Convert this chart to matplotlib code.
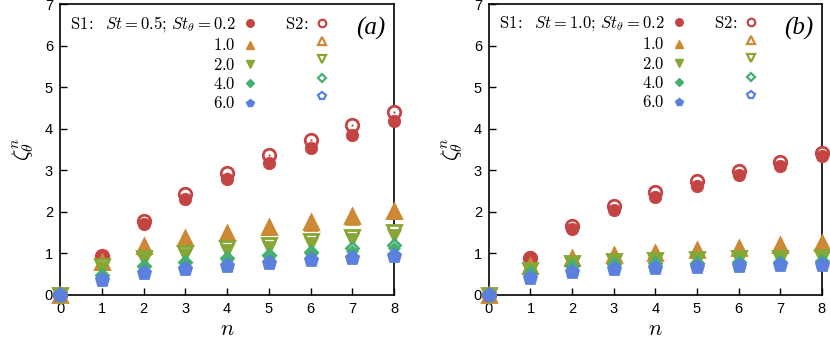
import matplotlib
matplotlib.use("Agg")
import matplotlib.pyplot as plt
from matplotlib.lines import Line2D
import numpy as np

plt.rcParams['mathtext.fontset'] = 'cm'
plt.rcParams['font.family'] = ['Liberation Sans', 'DejaVu Sans']

n = [0, 1, 2, 3, 4, 5, 6, 7, 8]
st_theta_labels = ['0.2', '1.0', '2.0', '4.0', '6.0']
colors = ['#c44444', '#cc8833', '#86a635', '#45b06e', '#5b80dd']
markers = ['o', '^', 'v', 'D', 'p']
msizes = [9.0, 10.0, 10.0, 6.5, 9.5]

# Panel (a): St = 0.5
a_S1 = [
    [0, 0.95, 1.70, 2.31, 2.78, 3.18, 3.53, 3.86, 4.18],
    [0, 0.78, 1.13, 1.34, 1.47, 1.60, 1.72, 1.86, 2.00],
    [0, 0.66, 0.86, 0.96, 1.05, 1.13, 1.22, 1.32, 1.42],
    [0, 0.47, 0.67, 0.76, 0.84, 0.91, 0.98, 1.05, 1.12],
    [0, 0.38, 0.55, 0.65, 0.72, 0.78, 0.84, 0.90, 0.96],
]
a_S2 = [
    [0, 0.95, 1.78, 2.43, 2.94, 3.37, 3.74, 4.08, 4.41],
    [0, 0.80, 1.17, 1.37, 1.50, 1.63, 1.76, 1.90, 2.03],
    [0, 0.69, 0.90, 1.02, 1.12, 1.21, 1.30, 1.40, 1.52],
    [0, 0.49, 0.70, 0.80, 0.89, 0.97, 1.04, 1.12, 1.20],
    [0, 0.36, 0.53, 0.62, 0.70, 0.76, 0.83, 0.88, 0.93],
]
# Panel (b): St = 1.0
b_S1 = [
    [0, 0.92, 1.58, 2.05, 2.37, 2.63, 2.88, 3.10, 3.35],
    [0, 0.72, 0.90, 0.98, 1.05, 1.10, 1.16, 1.22, 1.28],
    [0, 0.60, 0.75, 0.80, 0.83, 0.85, 0.87, 0.89, 0.91],
    [0, 0.55, 0.70, 0.75, 0.77, 0.79, 0.80, 0.81, 0.82],
    [0, 0.42, 0.56, 0.63, 0.66, 0.69, 0.70, 0.72, 0.73],
]
b_S2 = [
    [0, 0.90, 1.65, 2.13, 2.47, 2.75, 2.98, 3.20, 3.42],
    [0, 0.70, 0.88, 0.96, 1.02, 1.08, 1.14, 1.20, 1.26],
    [0, 0.60, 0.76, 0.81, 0.84, 0.86, 0.88, 0.90, 0.92],
    [0, 0.54, 0.69, 0.74, 0.76, 0.78, 0.79, 0.80, 0.81],
    [0, 0.40, 0.55, 0.62, 0.65, 0.68, 0.69, 0.71, 0.72],
]
panels = [('a', '0.5', a_S1, a_S2), ('b', '1.0', b_S1, b_S2)]

fig = plt.figure(figsize=(8.3, 3.43), dpi=100)
axes = [fig.add_axes([0.0723, 0.14, 0.4024, 0.848]),
        fig.add_axes([0.589, 0.14, 0.4012, 0.848])]

for ax, (tag, st, S1, S2) in zip(axes, panels):
    for i in range(5):
        ax.plot(n, S2[i], linestyle='none', marker=markers[i], ms=msizes[i],
                mfc='white', mec=colors[i], mew=2.0, clip_on=False, zorder=3)
        ax.plot(n, S2[i], linestyle='none', marker='o', ms=1.6,
                mfc=colors[i], mec=colors[i], mew=0, clip_on=False, zorder=3)
        ax.plot(n, S1[i], linestyle='none', marker=markers[i], ms=msizes[i],
                mfc=colors[i], mec=colors[i], mew=0.5, clip_on=False, zorder=3)
    ax.set_xlim(0, 8)
    ax.set_ylim(0, 7)
    ax.set_xticks(range(9))
    ax.set_yticks(range(8))
    ax.tick_params(direction='in', length=5, width=1, labelsize=10.5,
                   top=False, right=False, pad=5)
    for s in ax.spines.values():
        s.set_linewidth(1.2)
    ax.set_xlabel(r'$n$', fontsize=16, labelpad=2)
    ax.set_ylabel(r'$\zeta_\theta^n$', fontsize=16, labelpad=6)
    ax.text(0.975, 0.955, '(%s)' % tag, transform=ax.transAxes,
            ha='right', va='top', fontsize=18, family='Liberation Serif',
            style='italic')

    handles = []
    labels = []
    for i in range(5):
        handles.append(Line2D([], [], linestyle='none', marker=markers[i],
                              ms=msizes[i] * 0.6, mfc=colors[i], mec=colors[i]))
        if i == 0:
            labels.append(r'$\mathrm{S1}\!:\ \ St=%s;\, St_\theta=%s$' % (st, st_theta_labels[i]))
        else:
            labels.append(r'$%s$' % st_theta_labels[i])
    for i in range(5):
        handles.append(Line2D([], [], linestyle='none', marker=markers[i],
                              ms=msizes[i] * 0.6, mfc='white', mec=colors[i], mew=1.6))
        labels.append(r'$\mathrm{S2}\!:$' if i == 0 else '')
    leg = ax.legend(handles, labels, ncol=2, markerfirst=False, frameon=False,
                    loc='upper left', bbox_to_anchor=(0.0, 1.0),
                    fontsize=12, labelspacing=0.2, handlelength=0.8,
                    handletextpad=0.45, columnspacing=1.7, borderaxespad=0.4,
                    borderpad=0.2)

fig.savefig('out.png', dpi=100)
